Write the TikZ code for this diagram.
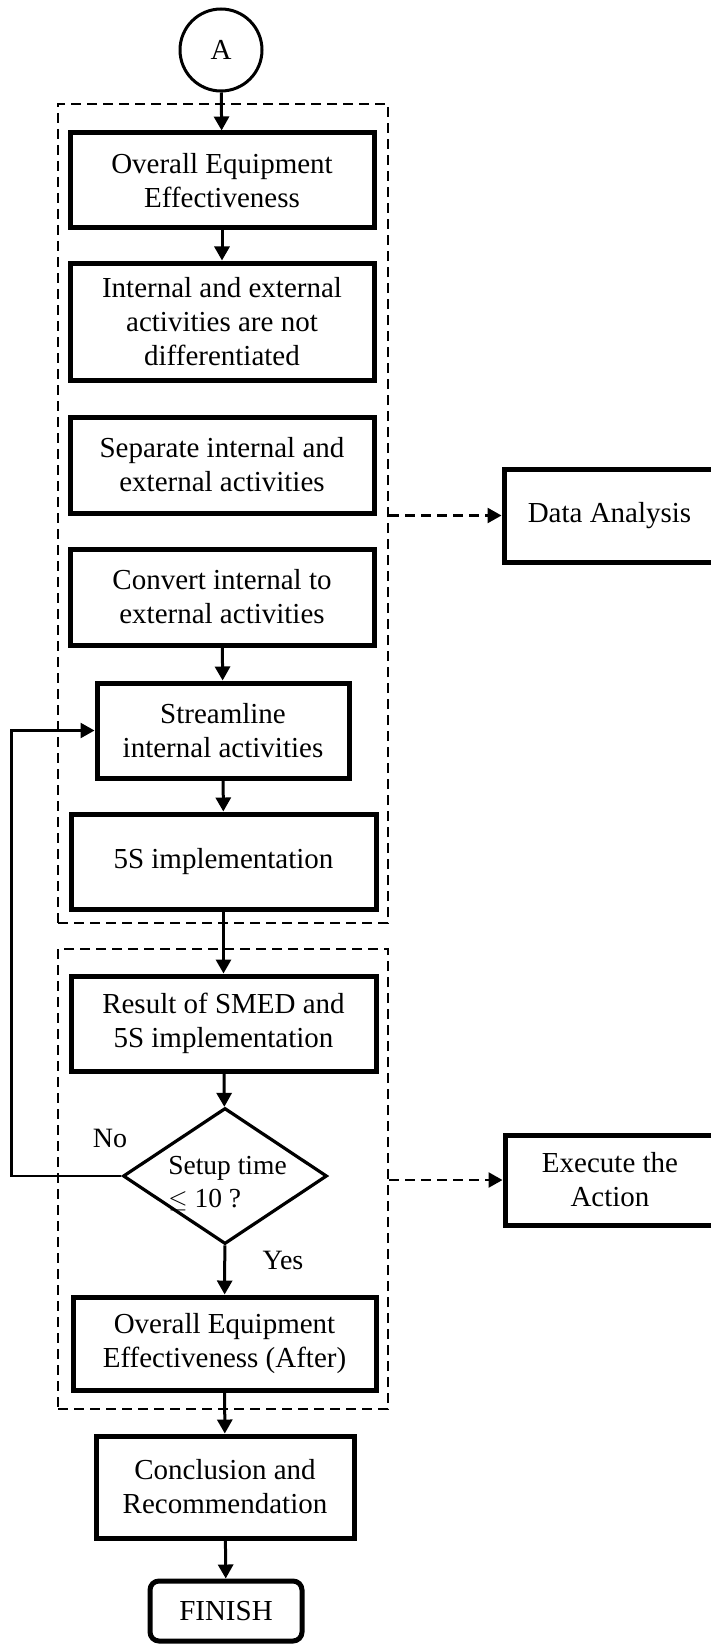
\documentclass[tikz,border=0pt]{standalone}
\usepackage{fontspec}
\setmainfont{Liberation Serif}
\usetikzlibrary{arrows.meta,shapes.geometric}
\begin{document}
\begin{tikzpicture}[x=1pt,y=-1pt,
  every node/.style={font=\fontsize{29}{34}\selectfont},
  procbox/.style={draw, line width=5pt, rectangle, inner sep=0pt, align=center},
  endbox/.style={procbox, rounded corners=9pt},
  connbox/.style={draw, circle, line width=3pt, inner sep=0pt, minimum size=82pt},
  decbox/.style={draw, diamond, line width=3.2pt, inner sep=0pt, shape aspect=1.5,
    minimum width=204pt, minimum height=136pt},
  groupbox/.style={draw, line width=2.5pt, dash pattern=on 10pt off 6pt, rectangle, inner sep=0pt},
  flow/.style={line width=3pt, -{Triangle[length=14pt,width=15pt]}},
  plain/.style={line width=2.5pt},
  dashflow/.style={line width=2.5pt, dash pattern=on 10pt off 6pt, -{Triangle[length=14pt,width=15pt]}},
  lbl/.style={font=\fontsize{28}{33}\selectfont, inner sep=0pt}
]
\fill[white] (0,0) rectangle (710,1645);
\useasboundingbox (0,0) rectangle (710,1645);

% dashed group frames
\node[groupbox, minimum width=330pt, minimum height=819pt] (grp1) at (223,513.5) {};
\node[groupbox, minimum width=330pt, minimum height=460pt] (grp2) at (223,1179) {};

% main column
\node[connbox] (a) at (221,50) {A};
\node[procbox, minimum width=304pt, minimum height=95pt] (oee) at (222,180.5)
  {Overall Equipment\\Effectiveness};
\node[procbox, minimum width=304pt, minimum height=117pt] (ndiff) at (222,321.5)
  {Internal and external\\activities are not\\differentiated};
\node[procbox, minimum width=304pt, minimum height=96pt] (sep) at (222,465)
  {Separate internal and\\external activities};
\node[procbox, minimum width=304pt, minimum height=96pt] (conv) at (222,597)
  {Convert internal to\\external activities};
\node[procbox, minimum width=252pt, minimum height=95pt] (stream) at (223,730.5)
  {Streamline\\internal activities};
\node[procbox, minimum width=305pt, minimum height=95pt] (fives) at (223.5,861.5)
  {5S implementation};
\node[procbox, minimum width=305pt, minimum height=95pt] (res) at (223.5,1023.5)
  {Result of SMED and\\5S implementation};
\node[decbox] (dec) at (225,1176) {};
\node[font=\fontsize{27.5}{33}\selectfont, align=left, inner sep=0pt] (dectext) at (227.5,1184)
  {Setup time\\$\leq$ 10 ?};
\node[procbox, minimum width=303pt, minimum height=93pt] (oeeafter) at (224.5,1343.5)
  {Overall Equipment\\Effectiveness (After)};
\node[procbox, minimum width=258pt, minimum height=102pt] (concl) at (225,1487)
  {Conclusion and\\Recommendation};
\node[endbox, minimum width=152pt, minimum height=60pt] (finish) at (226,1611) {FINISH};

% side boxes
\node[procbox, minimum width=211pt, minimum height=93pt] (data) at (609.5,515.5) {Data Analysis};
\node[procbox, minimum width=210pt, minimum height=90pt] (exec) at (610,1180)
  {Execute the\\Action};

% branch labels
\node[lbl] (no) at (110,1138) {No};
\node[lbl] (yes) at (283,1260) {Yes};

% connectors
\draw[flow] (a) -- (oee);
\draw[flow] (oee) -- (ndiff);
\draw[flow] (conv) -- (stream);
\draw[flow] (stream) -- (fives);
\draw[flow] (fives) -- (res);
\draw[flow] (res) -- (dec);
\draw[flow] (dec) -- (oeeafter);
\draw[flow] (oeeafter) -- (concl);
\draw[flow] (concl) -- (finish);
\draw[plain, -{Triangle[length=14pt,width=15pt]}] (dec.west) -- ++(-110,0) |- (stream.west);

\draw[dashflow] (data.west -| grp1.east) -- (data.west);
\draw[dashflow] (exec.west -| grp2.east) -- (exec.west);
\end{tikzpicture}
\end{document}
